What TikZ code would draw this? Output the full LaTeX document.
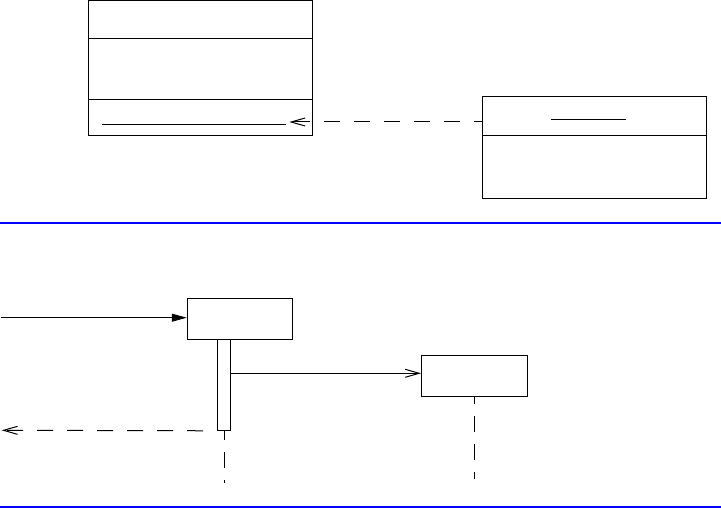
\documentclass[tikz,border=0pt]{standalone}
\usepackage{tikz}
\usetikzlibrary{arrows.meta}
\usepackage{xcolor}

\begin{document}
\begin{tikzpicture}[x=1pt,y=-1pt,line width=1pt,
    kasten/.style={draw,rectangle,inner sep=0pt,line width=1pt},
    gestrichelt/.style={dash pattern=on 16pt off 14pt},
    lebenslinie/.style={dash pattern=on 16pt off 12pt},
    offen/.style={-{Straight Barb[length=14pt,width=8pt,line width=1pt]}},
    voll/.style={-{Triangle[length=15pt,width=8pt]}}]
        \def\breite{721}
        \def\hoehe{508}

        \useasboundingbox (0,0) rectangle (\breite,\hoehe);

        %------------------
        % クラス図
        %------------------

        \node[kasten,minimum width=223.7pt,minimum height=135pt] (klasseA) at (200.5,68.5) {};
        \draw (klasseA.west |- 0,39) -- (klasseA.east |- 0,39);
        \draw (klasseA.west |- 0,100) -- (klasseA.east |- 0,100);

        \node[kasten,minimum width=224pt,minimum height=102pt] (klasseB) at (594,147.3) {};
        \draw (klasseB.west |- 0,135.3) -- (klasseB.east |- 0,135.3);

        % 下線
        \coordinate (strichA1) at (102.4,125);
        \coordinate (strichA2) at (285.5,125);
        \draw (strichA1) -- (strichA2);
        \coordinate (strichB1) at (551.4,120);
        \coordinate (strichB2) at (625.7,120);
        \draw (strichB1) -- (strichB2);

        % 依存（点線）
        \coordinate (abh) at (289.3,122);
        \draw[offen,gestrichelt,dash phase=8pt] (klasseB.west |- abh) -- (abh);

        % 境界
        \draw[blue,line width=2pt] (0,222.7) -- (\breite,222.7);

        %------------------
        % シーケンス図
        %------------------

        \node[kasten,minimum width=105.5pt,minimum height=40.8pt] (objA) at (240,318.7) {};
        \node[kasten,minimum width=13pt,minimum height=91pt] (akt) at (224.2,384.8) {};
        \node[kasten,minimum width=105.5pt,minimum height=40.8pt] (objB) at (474.3,375.7) {};

        % メッセージ
        \coordinate (start) at (1,317.7);
        \draw[voll] (start) -- (start -| objA.west);
        \draw[offen] (akt.east |- 0,373.3) -- (objB.west |- 0,373.3);
        \coordinate (ende) at (1.7,430.3);
        \draw[offen,gestrichelt,dash phase=16pt] (akt.south west) -- (ende);

        % ライフライン
        \coordinate (endeA) at (224.2,482.7);
        \coordinate (endeB) at (474.3,479);
        \draw[lebenslinie,dash phase=7pt] (akt.south) -- (endeA);
        \draw[lebenslinie,dash phase=9pt] (objB.south) -- (endeB);

        % 境界
        \draw[blue,line width=2pt] (0,507) -- (\breite,507);
      \end{tikzpicture}
\end{document}
